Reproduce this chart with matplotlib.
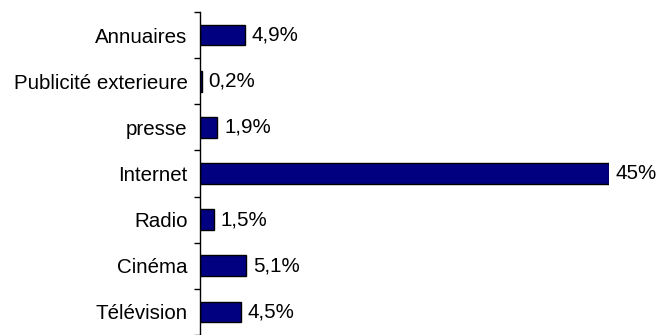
import matplotlib.pyplot as plt

categories = ['Annuaires', 'Publicité exterieure', 'presse', 'Internet',
              'Radio', 'Cinéma', 'Télévision']
values = [4.9, 0.2, 1.9, 45, 1.5, 5.1, 4.5]
labels = ['4,9%', '0,2%', '1,9%', '45%', '1,5%', '5,1%', '4,5%']

plt.rcParams['font.family'] = ['Liberation Sans', 'DejaVu Sans']

fig = plt.figure(figsize=(6.57, 3.35), dpi=100)
ax = fig.add_axes([200 / 657, 0, 409 / 657, 323 / 335])

pos = list(range(len(categories)))
ax.barh(pos, values, height=0.45, color='#000080', edgecolor='black', linewidth=1)
for p, v, t in zip(pos, values, labels):
    ax.text(v + 0.75, p, t, va='center', ha='left', fontsize=14.8)

ax.set_xlim(0, 45)
ax.set_ylim(len(categories) - 0.5, -0.5)
ax.set_yticks(pos)
ax.set_yticklabels(categories, fontsize=14.8)
ax.set_yticks([i - 0.5 for i in range(len(categories) + 1)], minor=True)
ax.tick_params(axis='y', which='major', length=0, pad=9)
ax.tick_params(axis='y', which='minor', length=4, width=1, color='black')
ax.set_xticks([])
for s in ['top', 'right', 'bottom']:
    ax.spines[s].set_visible(False)
ax.spines['left'].set_color('black')
ax.spines['left'].set_linewidth(1)

fig.savefig('out.png', dpi=100)
